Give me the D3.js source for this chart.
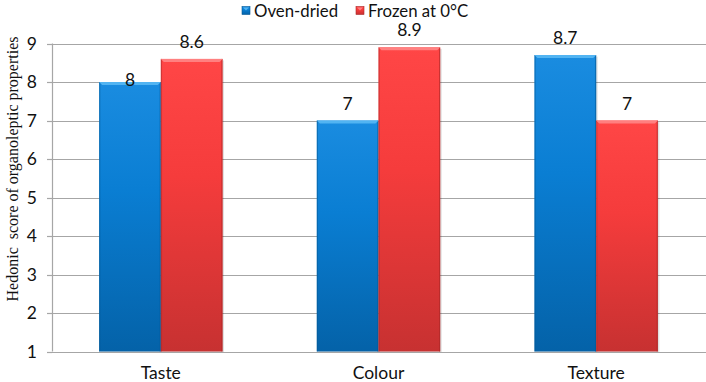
<!DOCTYPE html>
<html>
<head>
<meta charset="utf-8">
<script src="https://cdn.jsdelivr.net/npm/d3@7"></script>
<style>
  html, body { margin: 0; padding: 0; background: #fff; }
  svg { display: block; }
</style>
</head>
<body>
<svg id="chart" width="706" height="382"></svg>
<script>
const categories = ["Taste", "Colour", "Texture"];
const seriesNames = ["Oven-dried", "Frozen at 0°C"];
const ovenDried = [8, 7, 8.7];
const frozen = [8.6, 8.9, 7];
const yTicks = [1, 2, 3, 4, 5, 6, 7, 8, 9];
const yTitle = "Hedonic  score of organoleptic properties";

const W = 706, H = 382;
const margin = { left: 52, right: 1, top: 43.5, bottom: 30.5 };
const svg = d3.select("#chart");
const FONT = "Lato, 'Open Sans', sans-serif";
const FS = 17.5;

const x = d3.scaleBand().domain(categories)
  .range([margin.left, W - margin.right])
  .paddingInner(0.433).paddingOuter(0.2165);
const xs = d3.scaleBand().domain(seriesNames).range([0, x.bandwidth()]);
const y = d3.scaleLinear().domain([1, 9]).range([H - margin.bottom, margin.top]);

const defs = svg.append("defs");
const pal = [
  { top: "#1a8ce0", mid: "#0a7ed3", bot: "#0462a8", hi: "#52b4f2", edge: "#045996" },
  { top: "#ff4646", mid: "#f53c3c", bot: "#c73131", hi: "#ff8080", edge: "#a82828" }
];
pal.forEach((p, i) => {
  const g = defs.append("linearGradient").attr("id", "g" + i)
    .attr("x1", 0).attr("y1", 0).attr("x2", 0).attr("y2", 1);
  g.append("stop").attr("offset", "0%").attr("stop-color", p.top);
  g.append("stop").attr("offset", "40%").attr("stop-color", p.mid);
  g.append("stop").attr("offset", "100%").attr("stop-color", p.bot);
});

// gridlines
svg.append("g").selectAll("line").data(yTicks.slice(1)).join("line")
  .attr("x1", margin.left).attr("x2", W)
  .attr("y1", d => Math.round(y(d)) + 0.5).attr("y2", d => Math.round(y(d)) + 0.5)
  .attr("stroke", "#a6a6a6").attr("stroke-width", 1.2);

// bars
const rows = categories.map((c, i) => ({ c, vals: [ovenDried[i], frozen[i]] }));
const bars = [];
rows.forEach(r => r.vals.forEach((v, si) => bars.push({ c: r.c, s: seriesNames[si], si, v })));

const bg = svg.append("g");
bars.forEach(b => {
  const x0 = x(b.c) + xs(b.s), w = xs.bandwidth();
  const y0 = y(b.v), y1 = y(1);
  const p = pal[b.si];
  const g = bg.append("g");
  g.append("rect").attr("x", x0 + 1.5).attr("y", y0 + 1.5).attr("width", w).attr("height", y1 - y0)
    .attr("fill", "#000").attr("opacity", 0.12);
  g.append("rect").attr("x", x0).attr("y", y0).attr("width", w).attr("height", y1 - y0)
    .attr("fill", `url(#g${b.si})`);
  g.append("rect").attr("x", x0).attr("y", y0).attr("width", 1.2).attr("height", y1 - y0)
    .attr("fill", p.edge).attr("opacity", 0.5);
  g.append("rect").attr("x", x0 + w - 1.2).attr("y", y0).attr("width", 1.2).attr("height", y1 - y0)
    .attr("fill", p.edge).attr("opacity", 0.6);
  const bv = 3;
  g.append("path")
    .attr("d", `M${x0},${y0} L${x0 + w},${y0} L${x0 + w - bv},${y0 + bv} L${x0 + bv},${y0 + bv} Z`)
    .attr("fill", p.hi);
});

// axis line and ticks
const ax = svg.append("g");
ax.append("line").attr("x1", margin.left + 0.5).attr("x2", margin.left + 0.5)
  .attr("y1", y(9)).attr("y2", y(1)).attr("stroke", "#a6a6a6").attr("stroke-width", 1.2);
ax.append("line").attr("x1", margin.left).attr("x2", W)
  .attr("y1", Math.round(y(1)) + 0.5).attr("y2", Math.round(y(1)) + 0.5)
  .attr("stroke", "#a6a6a6").attr("stroke-width", 1.2);
ax.selectAll("line.tk").data(yTicks).join("line").attr("class", "tk")
  .attr("x1", margin.left - 5).attr("x2", margin.left)
  .attr("y1", d => Math.round(y(d)) + 0.5).attr("y2", d => Math.round(y(d)) + 0.5)
  .attr("stroke", "#a6a6a6").attr("stroke-width", 1.2);
ax.selectAll("text").data(yTicks).join("text")
  .attr("x", 37).attr("y", d => y(d)).attr("dy", "0.35em")
  .attr("text-anchor", "end")
  .attr("font-family", FONT).attr("font-size", FS).attr("fill", "#111")
  .text(d => d);

// category labels
svg.append("g").selectAll("text").data(categories).join("text")
  .attr("x", d => x(d) + x.bandwidth() / 2).attr("y", 378.5)
  .attr("text-anchor", "middle")
  .attr("font-family", FONT).attr("font-size", FS).attr("fill", "#111")
  .text(d => d);

// value labels
const labelNudge = { "Taste|Oven-dried": 15 };
svg.append("g").selectAll("text").data(bars).join("text")
  .attr("x", d => x(d.c) + xs(d.s) + xs.bandwidth() / 2)
  .attr("y", d => y(d.v) - 11 + (labelNudge[d.c + "|" + d.s] || 0))
  .attr("text-anchor", "middle")
  .attr("font-family", FONT).attr("font-size", FS).attr("fill", "#111")
  .text(d => d.v);

// y title
svg.append("text")
  .attr("transform", `translate(18, 169) rotate(-90)`)
  .attr("text-anchor", "middle")
  .attr("font-family", "'Liberation Serif', 'Times New Roman', serif").attr("font-size", 16)
  .attr("fill", "#111").attr("xml:space", "preserve")
  .style("white-space", "pre")
  .text(yTitle);

// legend
const legendX = [242, 356];
const lg = svg.append("g");
seriesNames.forEach((s, i) => {
  const p = pal[i];
  lg.append("rect").attr("x", legendX[i]).attr("y", 6.5).attr("width", 8).attr("height", 8)
    .attr("fill", `url(#g${i})`).attr("stroke", p.edge).attr("stroke-width", 0.6);
  lg.append("path").attr("d", `M${legendX[i] + 1},${7.5} L${legendX[i] + 7},${7.5} L${legendX[i] + 4},${10.5} Z`)
    .attr("fill", p.hi);
  lg.append("text").attr("x", legendX[i] + 12).attr("y", 16.5)
    .attr("font-family", FONT).attr("font-size", 16.8).attr("fill", "#111")
    .text(s);
});
</script>
</body>
</html>
